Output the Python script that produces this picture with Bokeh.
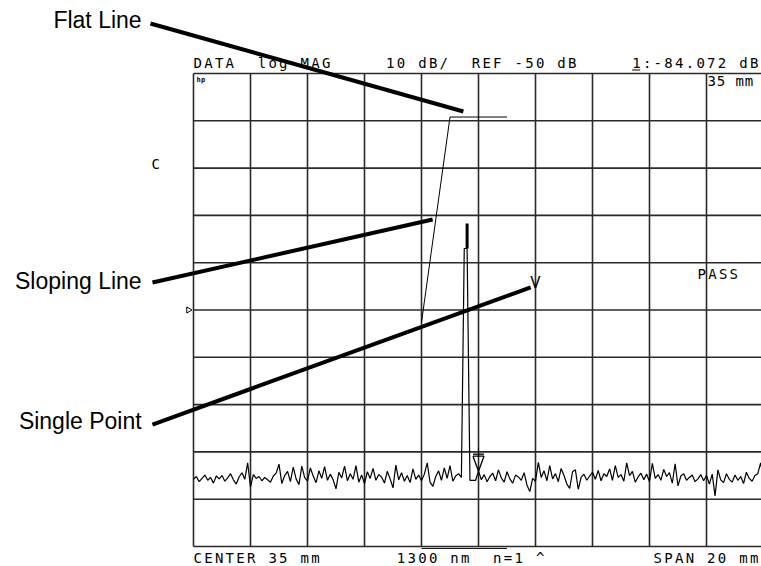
import numpy as np
from bokeh.plotting import figure
from bokeh.models import Range1d
from bokeh.core.properties import value
from bokeh.embed import file_html
from bokeh.resources import INLINE

# ---------------- instrument settings (from the screen annotations) ----------
CENTER_MM = 35.0
SPAN_MM = 20.0
SCALE_DB = 10.0          # dB per division
REF_DB = -50.0
N_DIV = 10
MARKER_MM = 35.0
MARKER_DB = -84.072
ACTIVE_MM = 37.0         # position of the small v / ^ indicators

# ---------------- measured trace (dB), 201 points across the span ------------
trace_db = [
    -85.8, -85.2, -86.3, -85.6, -84.9, -86.0, -85.4, -86.6, -85.1, -85.7,
    -85.0, -86.2, -85.5, -84.6, -85.9, -86.8, -85.3, -84.4, -85.8, -82.3,
    -87.4, -84.8, -85.6, -85.2, -86.1, -85.4, -85.9, -86.4, -85.1, -84.5,
    -82.6, -86.7, -85.0, -84.1, -86.3, -83.2, -85.7, -86.9, -83.0, -85.4,
    -86.2, -83.4, -85.1, -86.5, -84.0, -85.6, -83.1, -86.0, -84.7, -85.9,
    -87.8, -84.3, -85.5, -83.0, -86.1, -84.6, -85.8, -82.9, -86.4, -84.9,
    -86.7, -84.2, -85.6, -83.5, -86.0, -84.8, -85.3, -86.6, -84.1, -85.7,
    -87.6, -82.8, -85.9, -84.4, -86.2, -85.0, -86.5, -83.6, -85.8, -84.9,
    -86.1, -84.7, -82.3, -86.4, -87.3, -85.2, -84.0, -86.0, -83.4, -85.6,
    -82.9, -86.2, -85.1, -84.6, -85.4,
    -37.0, -37.0,
    -86.0, -86.0, -86.0,
    -84.072,
    -85.9, -84.8, -86.3, -85.2, -84.5, -86.1, -83.8, -85.5, -86.4,
    -84.2, -85.7, -86.6, -84.9, -85.3, -86.0, -84.4, -87.0, -88.4, -85.6,
    -86.2, -82.2, -85.4, -84.0, -86.1, -82.9, -85.7, -84.6, -86.3, -83.5,
    -85.0, -86.8, -87.7, -84.2, -83.8, -87.9, -85.4, -84.7, -86.0, -85.1,
    -84.3, -85.8, -83.9, -86.1, -84.6, -85.2, -83.6, -86.0, -82.9, -85.4,
    -84.8, -86.2, -82.3, -85.0, -84.1, -86.4, -85.3, -84.5, -85.9, -84.7,
    -86.3, -82.4, -85.6, -84.8, -86.0, -83.7, -85.2, -84.4, -86.6, -82.5,
    -87.2, -85.1, -84.6, -86.0, -85.4, -84.9, -86.3, -85.7, -84.8, -86.1,
    -85.0, -86.8, -84.7, -89.3, -83.8, -85.9, -86.5, -84.6, -85.8, -86.4,
    -84.9, -86.0, -85.2, -86.7, -84.3, -85.6, -86.2, -85.0, -84.6, -82.3,
    -85.8,
]
x_lo = CENTER_MM - SPAN_MM / 2
x_hi = CENTER_MM + SPAN_MM / 2
trace_x = np.linspace(x_lo, x_hi, len(trace_db))

# ---------------- limit lines ----------------
flat_x = [34.0, 36.0]
flat_db = [-9.2, -9.2]
slope_x = [33.0, 34.0]
slope_db = [-52.6, -9.2]
lower_x = [33.0, 36.0]
lower_db = [-100.4, -100.4]
single_x = [34.6, 34.6]
single_db = [-37.0, -31.7]

# ---------------- callouts ----------------
callout_labels = ["Flat Line", "Sloping Line", "Single Point"]
callout_label_x = [23.18, 23.18, 23.18]
callout_label_db = [9.94, -45.24, -74.84]
callout_x0 = [23.49, 23.56, 23.56]
callout_db0 = [10.57, -44.19, -74.21]
callout_x1 = [34.47, 33.39, 36.83]
callout_db1 = [-8.03, -30.87, -45.24]

# ---------------- screen annotation texts ----------------
header_text = "DATA  log MAG     10 dB/  REF -50 dB     1:-84.072 dB"
footer_text = "CENTER 35 mm       1300 nm  n=1 ^          SPAN 20 mm"
position_text = "35 mm"
status_text = "PASS"
channel_text = "C"
logo_text = "hp"

# ---------------- geometry (picture pixels <-> data) ----------------
W, H = 761, 566
PX_PER_MM = 28.5
PX_PER_DB = 4.73
y_top = REF_DB + SCALE_DB * N_DIV / 2
y_bot = REF_DB - SCALE_DB * N_DIV / 2
left_mm = x_lo - 193 / PX_PER_MM
top_db = y_top + 73 / PX_PER_DB
TXT_UP = 5 / PX_PER_DB      # baseline correction for the text glyphs

p = figure(width=W, height=H,
           x_range=Range1d(left_mm, left_mm + W / PX_PER_MM),
           y_range=Range1d(top_db - H / PX_PER_DB, top_db),
           output_backend="svg", toolbar_location=None,
           x_axis_location=None, y_axis_location=None, min_border=0)
p.grid.visible = False
p.outline_line_color = None
p.background_fill_color = "white"
p.border_fill_color = "white"

GRID_COLOR = "#2a2a2a"
# graticule
vx = [x_lo + i * SPAN_MM / N_DIV for i in range(N_DIV + 1)]
hy = [y_top - i * SCALE_DB for i in range(N_DIV + 1)]
p.segment(x0=vx, y0=[y_bot] * len(vx), x1=vx, y1=[y_top] * len(vx),
          line_color=GRID_COLOR, line_width=1.6)
p.segment(x0=[x_lo] * len(hy), y0=hy, x1=[x_hi] * len(hy), y1=hy,
          line_color=GRID_COLOR, line_width=1.6)

# limit lines
p.line(flat_x, flat_db, line_color="black", line_width=1)
p.line(slope_x, slope_db, line_color="black", line_width=1)
p.line(lower_x, lower_db, line_color="black", line_width=1)
p.line(single_x, single_db, line_color="black", line_width=3)

# trace
p.line(trace_x, trace_db, line_color="black", line_width=1.2)

# marker 1 (open down-pointing triangle with tip on the trace)
hw = 5.5 / PX_PER_MM
th = 15 / PX_PER_DB
p.line([MARKER_MM - hw, MARKER_MM + hw, MARKER_MM, MARKER_MM - hw],
       [MARKER_DB + th, MARKER_DB + th, MARKER_DB, MARKER_DB + th],
       line_color="black", line_width=1.3)
p.segment(x0=[MARKER_MM - hw], y0=[MARKER_DB + th + 2 / PX_PER_DB],
          x1=[MARKER_MM + hw], y1=[MARKER_DB + th + 2 / PX_PER_DB],
          line_color="black", line_width=1.3)
p.segment(x0=[MARKER_MM], y0=[MARKER_DB + th], x1=[MARKER_MM],
          y1=[MARKER_DB + th + 8 / PX_PER_DB], line_color="black", line_width=1)

# reference level pointer
p.scatter(x=[x_lo - 5 / PX_PER_MM], y=[REF_DB], marker="triangle",
          angle=-np.pi / 2, size=6, fill_color=None, line_color="black",
          line_width=1)

# callout lines and labels
p.segment(x0=callout_x0, y0=callout_db0, x1=callout_x1, y1=callout_db1,
          line_color="black", line_width=4)
p.text(x=callout_label_x, y=[v + 6 / PX_PER_DB for v in callout_label_db],
       text=callout_labels,
       text_font=value("Liberation Sans"), text_font_size="23px",
       text_align="right", text_baseline="alphabetic", text_color="black")

STEP = 10.7


def mono(s, x0_mm, y_db, step_px=STEP, size="14px", style="normal"):
    xs, ys, cs = [], [], []
    for k, ch in enumerate(s):
        if ch != " ":
            xs.append(x0_mm + k * step_px / PX_PER_MM)
            ys.append(y_db + TXT_UP)
            cs.append(ch)
    p.text(x=xs, y=ys, text=cs, text_font=value("DejaVu Sans Mono"),
           text_font_size=size, text_font_style=style, text_align="left",
           text_baseline="alphabetic", text_color="black")


mono(header_text, x_lo, y_top + 6 / PX_PER_DB)
# underline of the active marker number
k1 = header_text.index("1:")
p.segment(x0=[x_lo + k1 * STEP / PX_PER_MM], y0=[y_top + 3.5 / PX_PER_DB],
          x1=[x_lo + (k1 + 0.75) * STEP / PX_PER_MM], y1=[y_top + 3.5 / PX_PER_DB],
          line_color="black", line_width=1.2)
mono(footer_text, x_lo, y_bot - 16 / PX_PER_DB)
mono(position_text, x_lo + 514 / PX_PER_MM, y_top - 12 / PX_PER_DB, step_px=9.3)
mono(status_text, x_lo + 504 / PX_PER_MM, REF_DB + 6.45)
mono(channel_text, x_lo - 42 / PX_PER_MM, y_top - 95 / PX_PER_DB)
mono(logo_text, x_lo + 3 / PX_PER_MM, y_top - 11 / PX_PER_DB, step_px=4.5,
     size="7px", style="bold")
# small v indicator above the PASS row
p.text(x=[ACTIVE_MM], y=[REF_DB + 4.75 + TXT_UP], text=["V"],
       text_font=value("DejaVu Sans"), text_font_size="15px",
       text_align="center", text_baseline="alphabetic", text_color="black")

open("out.html", "w").write(file_html(p, INLINE))
